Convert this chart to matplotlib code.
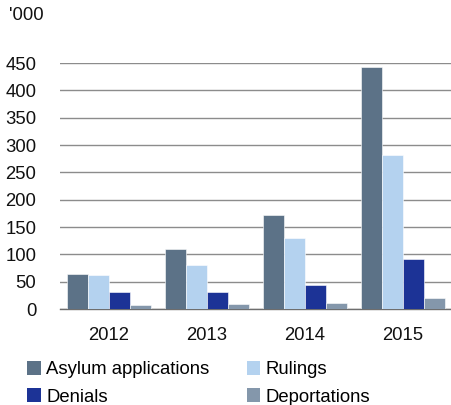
import numpy as np
import matplotlib
matplotlib.use('Agg')
import matplotlib.pyplot as plt
from matplotlib.patches import Patch

plt.rcParams['font.family'] = ['Liberation Sans', 'DejaVu Sans']

years = ['2012', '2013', '2014', '2015']
series_names = ['Asylum applications', 'Rulings', 'Denials', 'Deportations']
asylum = [64, 109, 172, 442]
rulings = [62, 81, 129, 282]
denials = [31, 31, 43, 91]
deportations = [7, 10, 11, 21]
colors = ['#5C7287', '#B4D2EF', '#1C3396', '#8497AB']

fs = 13.3

fig = plt.figure(figsize=(4.52, 4.05), dpi=100)
ax = fig.add_axes([60 / 452, 1 - 309 / 405, 392 / 452, 246 / 405])

x = np.arange(len(years))
width = 0.216
all_series = [asylum, rulings, denials, deportations]
for i, vals in enumerate(all_series):
    ax.bar(x - 1.5 * width + i * width, vals, width=width, color=colors[i],
           edgecolor='white', linewidth=0.4, zorder=3)

ax.set_xlim(-0.5, 3.5)
ax.set_ylim(0, 450)
ax.set_yticks(range(0, 451, 50))
ax.set_xticks(x)
ax.set_xticklabels(years)
ax.grid(True, axis='y', color='#8C8C8C', linewidth=1.0, zorder=0)
for s in ['top', 'right', 'left']:
    ax.spines[s].set_visible(False)
ax.spines['bottom'].set_color('#6E6E6E')
ax.spines['bottom'].set_linewidth(1.0)
ax.tick_params(axis='both', length=0, labelsize=fs, colors='#111111')
ax.tick_params(axis='y', pad=17)
ax.tick_params(axis='x', pad=13)

fig.text(9 / 452, 1 - 16 / 405, "'000", fontsize=fs, va='center', ha='left', color='#111111')

# legend fills column-wise, so order for rows: Asylum/Rulings, Denials/Deportations
order = [0, 2, 1, 3]
handles = [Patch(facecolor=colors[k], edgecolor='none') for k in order]
labels = [series_names[k] for k in order]
fig.legend(handles, labels, loc='upper left', bbox_to_anchor=(27 / 452, 1 - 361 / 405),
           ncol=2, frameon=False, fontsize=fs, handlelength=0.75, handleheight=0.75,
           handletextpad=0.3, columnspacing=2.0, labelspacing=0.55, borderaxespad=0,
           borderpad=0)

fig.savefig('out.png', dpi=100)
